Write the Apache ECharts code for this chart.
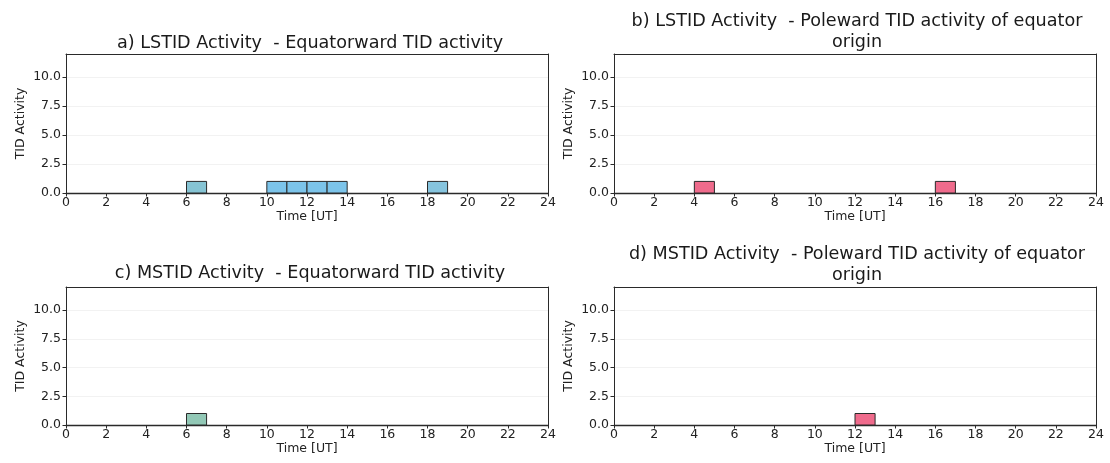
<!DOCTYPE html>
<html>
<head>
<meta charset="utf-8">
<script src="https://cdn.jsdelivr.net/npm/echarts@6/dist/echarts.min.js"></script>
<style>
  html, body { margin: 0; padding: 0; background: #fff; }
  #chart { width: 1110px; height: 463px; }
</style>
</head>
<body>
<div id="chart"></div>
<script>
// Hourly TID activity histograms (1-hour bins, UT)
const xTicks = [0, 2, 4, 6, 8, 10, 12, 14, 16, 18, 20, 22, 24];
const yTicks = [0, 2.5, 5, 7.5, 10];

// a) LSTID equatorward
const lstidEqBinStart = [6, 10, 11, 12, 13, 18];
const lstidEqCount    = [1, 1, 1, 1, 1, 1];
const lstidEqColor    = ['#86c4d4', '#7cc4ea', '#7cc4ea', '#7cc4ea', '#7cc4ea', '#86c4de'];

// b) LSTID poleward of equator origin
const lstidPoleBinStart = [4, 16];
const lstidPoleCount    = [1, 1];
const lstidPoleColor    = ['#ef6b8c', '#ef6b8c'];

// c) MSTID equatorward
const mstidEqBinStart = [6];
const mstidEqCount    = [1];
const mstidEqColor    = ['#92c8b6'];

// d) MSTID poleward of equator origin
const mstidPoleBinStart = [12];
const mstidPoleCount    = [1];
const mstidPoleColor    = ['#ef6b8c'];

const panelTitles = [
  'a) LSTID Activity  - Equatorward TID activity',
  'b) LSTID Activity  - Poleward TID activity of equator\norigin',
  'c) MSTID Activity  - Equatorward TID activity',
  'd) MSTID Activity  - Poleward TID activity of equator\norigin'
];
const panels = [
  { start: lstidEqBinStart,   count: lstidEqCount,   color: lstidEqColor },
  { start: lstidPoleBinStart, count: lstidPoleCount, color: lstidPoleColor },
  { start: mstidEqBinStart,   count: mstidEqCount,   color: mstidEqColor },
  { start: mstidPoleBinStart, count: mstidPoleCount, color: mstidPoleColor }
];

const FONT = 'DejaVu Sans';
const INK = '#2a2a2a';
const gridPos = [
  { left: 66,  top: 54,  width: 482, height: 139 },
  { left: 614, top: 54,  width: 482, height: 139 },
  { left: 66,  top: 287, width: 482, height: 138 },
  { left: 614, top: 287, width: 482, height: 138 }
];
const titlePos = [
  { left: 305, top: 28 },
  { left: 852, top: 6 },
  { left: 305, top: 258 },
  { left: 852, top: 239 }
];

const grids = [], xAxes = [], yAxes = [], series = [], titles = [];
panels.forEach((p, i) => {
  grids.push(Object.assign({ show: false }, gridPos[i]));
  titles.push({
    text: panelTitles[i],
    left: titlePos[i].left, top: titlePos[i].top,
    textAlign: 'center',
    textStyle: { fontFamily: FONT, fontSize: 17.6, fontWeight: 'normal', color: '#1a1a1a', lineHeight: 21 }
  });
  // bottom x axis with ticks and labels
  xAxes.push({
    gridIndex: i, type: 'value', position: 'bottom', min: 0, max: 24, interval: 2,
    name: 'Time [UT]', nameLocation: 'middle', nameGap: 17,
    nameTextStyle: { fontFamily: FONT, fontSize: 12.5, color: '#222' },
    axisLine: { show: true, onZero: false, lineStyle: { color: INK, width: 1.3 } },
    axisTick: { show: true, length: 3.5, lineStyle: { color: INK } },
    axisLabel: { fontFamily: FONT, fontSize: 12.5, color: '#222', margin: 3 },
    splitLine: { show: false }
  });
  // top frame edge
  xAxes.push({
    gridIndex: i, type: 'value', position: 'top', min: 0, max: 24,
    axisLine: { show: true, onZero: false, lineStyle: { color: INK } },
    axisTick: { show: false }, axisLabel: { show: false }, splitLine: { show: false }
  });
  yAxes.push({
    gridIndex: i, type: 'value', position: 'left', min: 0, max: 12,
    name: 'TID Activity', nameLocation: 'middle', nameGap: 39,
    nameTextStyle: { fontFamily: FONT, fontSize: 12.5, color: '#222' },
    axisLine: { show: true, onZero: false, lineStyle: { color: INK } },
    axisTick: { show: true, length: 3.5, customValues: yTicks, lineStyle: { color: INK } },
    axisLabel: {
      fontFamily: FONT, fontSize: 12.5, color: '#222', margin: 5,
      customValues: yTicks, formatter: v => v.toFixed(1)
    },
    splitLine: { show: true, lineStyle: { color: '#f2f2f2', width: 1 } }
  });
  // right frame edge
  yAxes.push({
    gridIndex: i, type: 'value', position: 'right', min: 0, max: 12,
    axisLine: { show: true, onZero: false, lineStyle: { color: INK } },
    axisTick: { show: false }, axisLabel: { show: false }, splitLine: { show: false }
  });
  series.push({
    type: 'custom',
    xAxisIndex: 2 * i, yAxisIndex: 2 * i,
    data: p.start.map((s, k) => [s, s + 1, p.count[k], k]),
    encode: { x: [0, 1], y: 2 },
    renderItem: (params, api) => {
      const k = api.value(3);
      const p0 = api.coord([api.value(0), 0]);
      const p1 = api.coord([api.value(1), api.value(2)]);
      return {
        type: 'rect',
        shape: { x: p0[0], y: p1[1], width: p1[0] - p0[0], height: p0[1] - p1[1] },
        style: { fill: p.color[k], stroke: INK, lineWidth: 1 }
      };
    },
    silent: true
  });
});

const chart = echarts.init(document.getElementById('chart'), null, { renderer: 'canvas' });
chart.setOption({
  animation: false,
  backgroundColor: '#fff',
  title: titles,
  grid: grids,
  xAxis: xAxes,
  yAxis: yAxes,
  series: series
});
</script>
</body>
</html>
